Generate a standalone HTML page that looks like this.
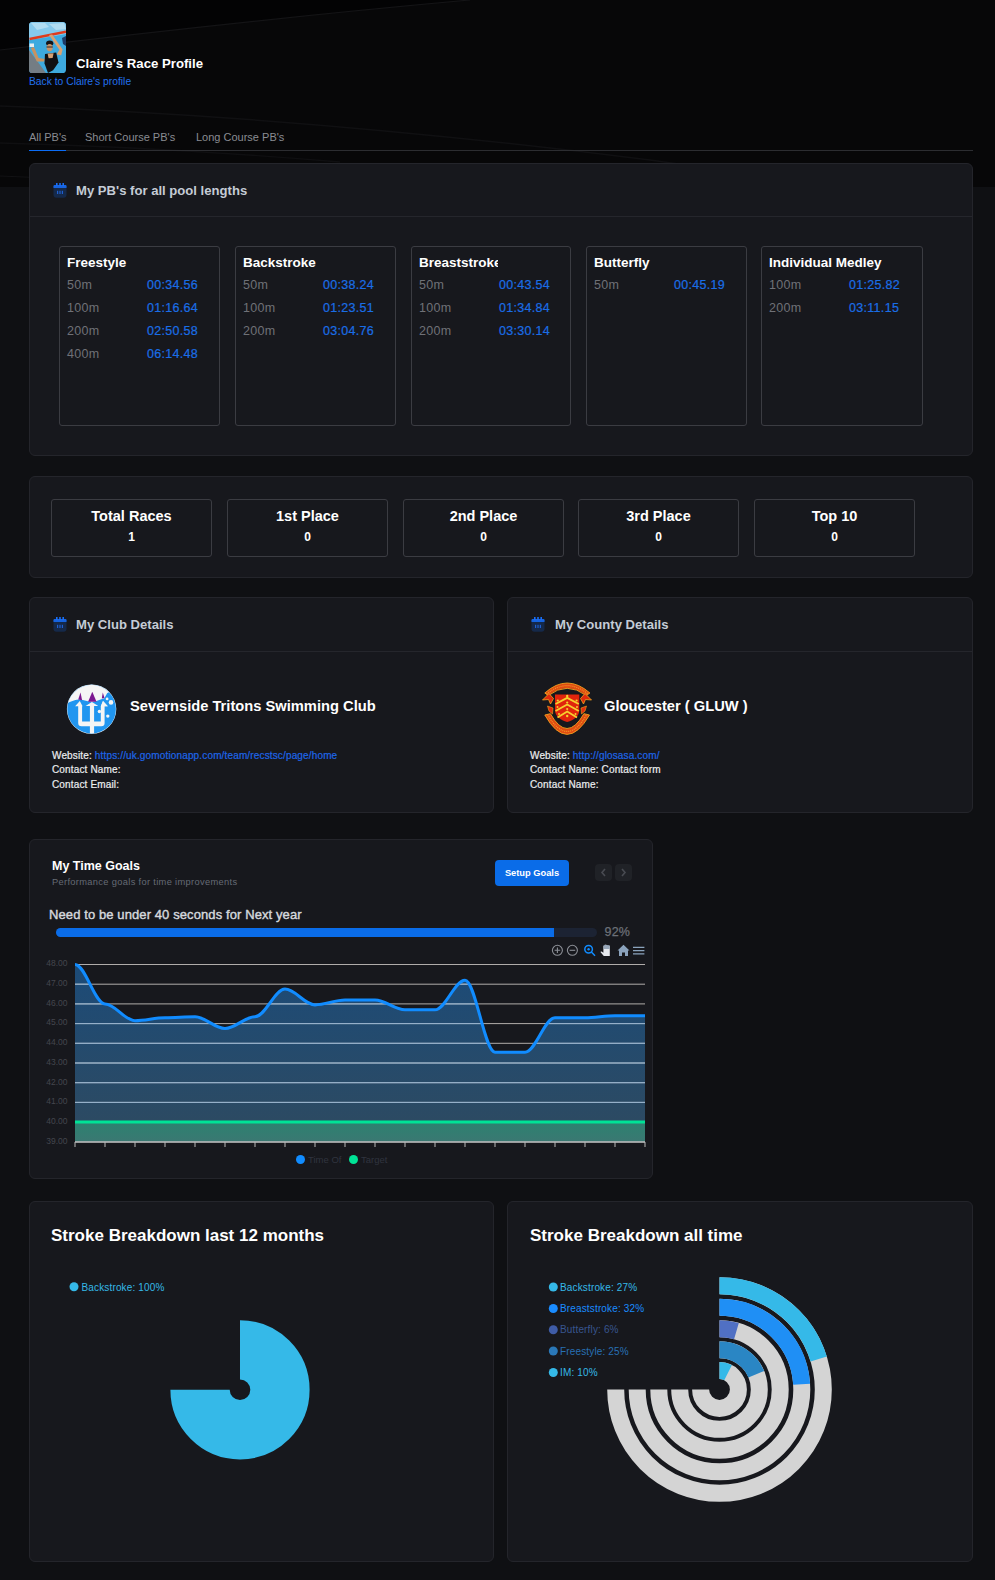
<!DOCTYPE html>
<html><head><meta charset="utf-8">
<style>
*{box-sizing:border-box;margin:0;padding:0}
html,body{width:995px;height:1580px;overflow:hidden;background:#0f1013;font-family:"Liberation Sans",sans-serif;color:#fff}
.abs{position:absolute}
#hdr{position:absolute;left:0;top:0;width:995px;height:187px;background:#040405;overflow:hidden}
.card{position:absolute;background:#17181d;border:1px solid #24252b;border-radius:6px}
.ctitle{position:absolute;font-weight:bold;font-size:13.1px;color:#c5ccd6;margin-top:-0.5px;white-space:nowrap}
.divl{position:absolute;left:0;right:0;height:1px;background:#25262c}
.pb{position:absolute;top:246px;width:161px;height:180px;border:1px solid #3b3c42;border-radius:3px}
.pb h4{position:absolute;left:7px;top:7.5px;font-size:13.5px;font-weight:bold;color:#fff;white-space:nowrap}
.pb .r{position:absolute;left:7px;font-size:12.5px;letter-spacing:0.3px;color:#6f7177;white-space:nowrap}
.pb .t{position:absolute;left:87px;font-size:12.5px;letter-spacing:0.3px;-webkit-text-stroke:0.2px #1a6ee6;color:#1a6ee6;white-space:nowrap}
.st{position:absolute;top:499px;width:161px;height:58px;border:1px solid #3b3c42;border-radius:3px;text-align:center}
.st .a{position:absolute;left:0;right:0;top:8px;font-size:14.5px;font-weight:bold;color:#fff}
.st .b{position:absolute;left:0;right:0;top:30px;font-size:12px;font-weight:bold;color:#fff}
</style></head><body>
<div id="hdr"><svg width="995" height="187" viewBox="0 0 995 187" style="position:absolute;left:0;top:0">
<rect width="995" height="187" fill="#070708"/>
<path d="M0 0 H470 Q250 20 0 50 Z" fill="#030304"/>
<g fill="none">
<path d="M0 50 Q250 20 470 0" stroke="#141416" stroke-width="1.2"/>
<path d="M0 106 Q300 116 650 160 Q720 170 760 174" stroke="#101012" stroke-width="1.5"/>
<path d="M0 143 Q160 147 340 162" stroke="#0f0f11" stroke-width="1.3"/>
<path d="M0 176 Q30 177 60 179" stroke="#121214" stroke-width="1.2"/>
</g>
</svg></div>

<!-- photo -->
<svg class="abs" style="left:29px;top:22px" width="37" height="51" viewBox="0 0 37 51">
<defs><clipPath id="pc"><rect width="37" height="51" rx="3.6"/></clipPath></defs>
<g clip-path="url(#pc)">
<rect width="37" height="51" fill="#3eaadf"/>
<path d="M0 0 H37 V12 L20 15 L0 18 Z" fill="#86c9ec"/>
<path d="M2 1 L16 1 L20 5 L8 8 Z M20 2 L35 1 L37 7 L27 8 Z" fill="#c2e4f5" opacity="0.7"/>
<path d="M0 28 L17 51 H0 Z" fill="#747d84"/>
<path d="M0.5 17 L37 9.8" stroke="#e03a1c" stroke-width="2.4"/>
<path d="M33 16 L37 14 V24 L34 22 Z" fill="#1d3a66"/>
<rect x="0.5" y="21.5" width="4.5" height="3.5" fill="#e8eef2"/>
<path d="M20 12.9 L23.2 12.4 L33.6 27.4 L32.2 33.3 L27.7 32.4 L30.4 27.8 Z" fill="#d9a272"/>
<path d="M1.9 26 L5 25.1 L9.6 36 L15.9 36.9 L15 39.6 L7.8 39.6 Z" fill="#c99260"/>
<ellipse cx="20.7" cy="21.2" rx="3.6" ry="2.6" fill="#141418"/>
<ellipse cx="20.6" cy="25.6" rx="3" ry="3.6" fill="#c89468"/>
<path d="M17.5 25 H23.8" stroke="#2a2a30" stroke-width="1.1"/>
<path d="M16 31.9 L27.2 30.5 L29.5 40.5 L24.1 48.2 L19 51 L15.5 41.4 Z" fill="#101014"/>
<path d="M18.6 31.6 L24.6 31.2 L23.6 36 L19.6 36.3 Z" fill="#d4a074"/>
</g></svg>
<div class="abs" style="left:76px;top:55.5px;font-size:13.2px;font-weight:bold;color:#fff;white-space:nowrap">Claire's Race Profile</div>
<div class="abs" style="left:29px;top:75.5px;font-size:10.3px;color:#2271ee;white-space:nowrap">Back to Claire's profile</div>

<!-- tabs -->
<div class="abs" style="left:29px;top:131px;font-size:11px;color:#8a8c92;white-space:nowrap">All PB's</div>
<div class="abs" style="left:85px;top:131px;font-size:11px;color:#8a8c92;white-space:nowrap">Short Course PB's</div>
<div class="abs" style="left:196px;top:131px;font-size:11px;color:#8a8c92;white-space:nowrap">Long Course PB's</div>
<div class="abs" style="left:29px;top:150px;width:944px;height:1px;background:#2c2d31"></div>
<div class="abs" style="left:29px;top:149.6px;width:37px;height:1.6px;background:#0b6cf5"></div>

<!-- PB card -->
<div class="card" style="left:29px;top:163px;width:944px;height:293px"><div class="divl" style="top:52px"></div></div>
<svg class="abs" style="left:53px;top:182px" width="14" height="16" viewBox="0 0 14 16"><rect x="0.5" y="3.5" width="13" height="12.3" rx="3" fill="#15294a"/><path d="M0.5 6 V5.5 A2.5 2.5 0 0 1 3 3 H11 A2.5 2.5 0 0 1 13.5 5.5 V6 Z" fill="#1764e0"/><rect x="0.5" y="3" width="13" height="2.6" fill="#1764e0" rx="1"/><rect x="3" y="1" width="1.6" height="3" fill="#1a6ef5"/><rect x="6.2" y="1" width="1.6" height="3" fill="#1a6ef5"/><rect x="9.4" y="1" width="1.6" height="3" fill="#1a6ef5"/><g fill="#1f5fd0"><rect x="4" y="8.8" width="1.2" height="3.2"/><rect x="6.4" y="8.8" width="1.2" height="3.2"/><rect x="8.8" y="8.8" width="1.2" height="3.2"/></g></svg>
<div class="ctitle" style="left:76px;top:183px">My PB's for all pool lengths</div>

<div class="pb" style="left:59px"><h4>Freestyle</h4>
<div class="r" style="top:31px">50m</div><div class="t" style="top:31px">00:34.56</div>
<div class="r" style="top:54px">100m</div><div class="t" style="top:54px">01:16.64</div>
<div class="r" style="top:77px">200m</div><div class="t" style="top:77px">02:50.58</div>
<div class="r" style="top:100px">400m</div><div class="t" style="top:100px">06:14.48</div>
</div>
<div class="pb" style="left:235px"><h4>Backstroke</h4>
<div class="r" style="top:31px">50m</div><div class="t" style="top:31px">00:38.24</div>
<div class="r" style="top:54px">100m</div><div class="t" style="top:54px">01:23.51</div>
<div class="r" style="top:77px">200m</div><div class="t" style="top:77px">03:04.76</div>
</div>
<div class="pb" style="left:411px;width:160px"><h4 style="width:79px;overflow:hidden">Breaststroke</h4>
<div class="r" style="top:31px">50m</div><div class="t" style="top:31px">00:43.54</div>
<div class="r" style="top:54px">100m</div><div class="t" style="top:54px">01:34.84</div>
<div class="r" style="top:77px">200m</div><div class="t" style="top:77px">03:30.14</div>
</div>
<div class="pb" style="left:586px"><h4>Butterfly</h4>
<div class="r" style="top:31px">50m</div><div class="t" style="top:31px">00:45.19</div>
</div>
<div class="pb" style="left:761px;width:162px"><h4>Individual Medley</h4>
<div class="r" style="top:31px">100m</div><div class="t" style="top:31px">01:25.82</div>
<div class="r" style="top:54px">200m</div><div class="t" style="top:54px">03:11.15</div>
</div>

<!-- stats card -->
<div class="card" style="left:29px;top:476px;width:944px;height:102px"></div>
<div class="st" style="left:51px"><div class="a">Total Races</div><div class="b">1</div></div>
<div class="st" style="left:227px"><div class="a">1st Place</div><div class="b">0</div></div>
<div class="st" style="left:403px"><div class="a">2nd Place</div><div class="b">0</div></div>
<div class="st" style="left:578px"><div class="a">3rd Place</div><div class="b">0</div></div>
<div class="st" style="left:754px"><div class="a">Top 10</div><div class="b">0</div></div>

<!-- club card -->
<div class="card" style="left:29px;top:597px;width:465px;height:216px"><div class="divl" style="top:53px"></div></div>
<svg class="abs" style="left:53px;top:616px" width="14" height="16" viewBox="0 0 14 16"><rect x="0.5" y="3.5" width="13" height="12.3" rx="3" fill="#15294a"/><path d="M0.5 6 V5.5 A2.5 2.5 0 0 1 3 3 H11 A2.5 2.5 0 0 1 13.5 5.5 V6 Z" fill="#1764e0"/><rect x="0.5" y="3" width="13" height="2.6" fill="#1764e0" rx="1"/><rect x="3" y="1" width="1.6" height="3" fill="#1a6ef5"/><rect x="6.2" y="1" width="1.6" height="3" fill="#1a6ef5"/><rect x="9.4" y="1" width="1.6" height="3" fill="#1a6ef5"/><g fill="#1f5fd0"><rect x="4" y="8.8" width="1.2" height="3.2"/><rect x="6.4" y="8.8" width="1.2" height="3.2"/><rect x="8.8" y="8.8" width="1.2" height="3.2"/></g></svg>
<div class="ctitle" style="left:76px;top:617px">My Club Details</div>
<svg class="abs" style="left:66px;top:683px" width="52" height="52" viewBox="0 0 52 52">
<defs><clipPath id="cc"><circle cx="25.6" cy="26.1" r="24.3"/></clipPath></defs>
<circle cx="25.6" cy="26.1" r="24.7" fill="#e6f3fc"/>
<g clip-path="url(#cc)">
<rect width="52" height="52" fill="#2196f0"/>
<path d="M0 0 H52 V6 L48.2 8.1 C45 9 42 9.5 41.1 10.2 C39.5 13 38.5 15 38.3 15.2 C33 17 29 19 25.6 19 C20 18.5 16 16.2 12.2 16.6 C8 17 4 19 0 21 Z" fill="#f5f5f5"/>
<path d="M12.2 16.6 L14.5 9.5 L16.1 17.3 Z" fill="#7b1890"/>
<path d="M22.1 18.7 L26.3 8.8 L30.5 18.7 Z" fill="#7b1890"/>
<path d="M35.8 15.5 L36.8 9.5 L38.5 15 Z" fill="#7b1890"/>
<g fill="#f5f5f5">
<path d="M13.8 18 L9.1 23.3 H12.2 V40 Q12.2 43.3 15.5 43.3 H23.9 V52 H28.1 V43.3 H35.3 Q38.6 43.3 38.6 40 V23.3 H41.8 L37 18 L34.8 23.3 V38.4 H28.1 V22.9 H32.3 L25.9 19 L19.6 22.9 H23.9 V38.4 H16.1 V23.3 H16.6 Z"/>
<path d="M34.8 23.3 L37 18 L41.8 23.3 Z"/>
<circle cx="41.1" cy="15.9" r="1.4"/><circle cx="45" cy="19.4" r="2.3"/><circle cx="33.4" cy="28.5" r="1.7"/><circle cx="41.8" cy="33.1" r="1.7"/>
</g>
</g>
</svg>
<div class="abs" style="left:130px;top:697.5px;font-size:14.7px;font-weight:bold;color:#fff;white-space:nowrap">Severnside Tritons Swimming Club</div>
<div class="abs" style="left:52px;top:748.5px;font-size:10px;letter-spacing:0.15px;-webkit-text-stroke:0.2px currentColor;line-height:14.5px;color:#eceef0;white-space:nowrap">Website: <span style="color:#1e66e8">https://uk.gomotionapp.com/team/recstsc/page/home</span><br>Contact Name:<br>Contact Email:</div>
<!-- county card -->
<div class="card" style="left:507px;top:597px;width:466px;height:216px"><div class="divl" style="top:53px"></div></div>
<svg class="abs" style="left:531px;top:616px" width="14" height="16" viewBox="0 0 14 16"><rect x="0.5" y="3.5" width="13" height="12.3" rx="3" fill="#15294a"/><path d="M0.5 6 V5.5 A2.5 2.5 0 0 1 3 3 H11 A2.5 2.5 0 0 1 13.5 5.5 V6 Z" fill="#1764e0"/><rect x="0.5" y="3" width="13" height="2.6" fill="#1764e0" rx="1"/><rect x="3" y="1" width="1.6" height="3" fill="#1a6ef5"/><rect x="6.2" y="1" width="1.6" height="3" fill="#1a6ef5"/><rect x="9.4" y="1" width="1.6" height="3" fill="#1a6ef5"/><g fill="#1f5fd0"><rect x="4" y="8.8" width="1.2" height="3.2"/><rect x="6.4" y="8.8" width="1.2" height="3.2"/><rect x="8.8" y="8.8" width="1.2" height="3.2"/></g></svg>
<div class="ctitle" style="left:555px;top:617px">My County Details</div>
<svg class="abs" style="left:540px;top:681px" width="54" height="56" viewBox="0 0 54 56">
<path d="M4.8 12 Q27 -8 49.9 12 L46.3 14.5 Q27 0.1 8.3 14.5 Z" fill="#e04a12" stroke="#f2a21e" stroke-width="0.9"/>
<path d="M2.5 19 L9 12.5 L13.5 17.5 L10.5 23 L8.5 18.5 Z" fill="#e02a0c" stroke="#f2a21e" stroke-width="0.8"/>
<path d="M51.5 19 L45 12.5 L40.5 17.5 L43.5 23 L45.5 18.5 Z" fill="#e02a0c" stroke="#f2a21e" stroke-width="0.8"/>
<path d="M7.5 25 L13 27 L12.5 33 L9 30 Z" fill="#e02a0c" stroke="#f2a21e" stroke-width="0.6"/>
<path d="M46.5 25 L41 27 L41.5 33 L45 30 Z" fill="#e02a0c" stroke="#f2a21e" stroke-width="0.6"/>
<path d="M4.8 34 Q27 72.8 49.5 34 L43.9 32.7 Q27 62.3 10.4 32.7 Z" fill="#e04a12" stroke="#f2a21e" stroke-width="0.9"/><path d="M7.6 33.5 Q27 67.5 46.7 33.5" fill="none" stroke="#f3b02a" stroke-width="1.3" stroke-dasharray="1.1 0.9" opacity="0.75"/><path d="M6.6 13.2 Q27 -4 48.1 13.2" fill="none" stroke="#f3b02a" stroke-width="1.2" stroke-dasharray="1.1 0.9" opacity="0.75"/>
<path d="M15 13.5 H39.3 V29 C39.3 35 34 39 27.2 41 C20.5 39 15 35 15 29 Z" fill="#e0240c"/>
<g fill="none" stroke="#f5cf2e" stroke-width="1.9"><path d="M15.5 23 L27.2 16.8 L38.8 23"/><path d="M15.5 30 L27.2 23.5 L38.8 30"/><path d="M17.5 36.5 L27.2 30.5 L37 36.5"/></g>
<g fill="#f5cf2e"><circle cx="27.2" cy="15" r="1.2"/><circle cx="27.2" cy="21.5" r="1.1"/><circle cx="27.2" cy="28" r="1.1"/><circle cx="27.2" cy="35" r="1.2"/><circle cx="17.8" cy="19.5" r="1.1"/><circle cx="36.6" cy="19.5" r="1.1"/><circle cx="17.5" cy="26" r="1"/><circle cx="37" cy="26" r="1"/><circle cx="19" cy="33" r="1"/><circle cx="35.5" cy="33" r="1"/></g>
</svg>
<div class="abs" style="left:604px;top:697.5px;font-size:14.7px;font-weight:bold;color:#fff;white-space:nowrap">Gloucester ( GLUW )</div>
<div class="abs" style="left:530px;top:748.5px;font-size:10px;letter-spacing:0.15px;-webkit-text-stroke:0.2px currentColor;line-height:14.5px;color:#eceef0;white-space:nowrap">Website: <span style="color:#1e66e8">http://glosasa.com/</span><br>Contact Name: Contact form<br>Contact Name:</div>

<!-- goals card -->
<div class="card" style="left:29px;top:839px;width:624px;height:340px"></div>
<div class="abs" style="left:52px;top:859px;font-size:12.5px;font-weight:bold;color:#fff;white-space:nowrap">My Time Goals</div>
<div class="abs" style="left:52px;top:876.5px;font-size:9.3px;letter-spacing:0.33px;color:#666b75;white-space:nowrap">Performance goals for time improvements</div>
<div class="abs" style="left:495px;top:860px;width:74px;height:26px;border-radius:4px;background:#0a6ce8;color:#fff;font-size:9.3px;font-weight:bold;text-align:center;line-height:26px">Setup Goals</div>
<svg class="abs" style="left:595px;top:864px" width="38" height="17" viewBox="0 0 38 17"><rect x="0" y="0" width="17" height="17" rx="4" fill="#202227"/><rect x="20" y="0" width="17" height="17" rx="4" fill="#202227"/><path d="M10 5 L7 8.5 L10 12" fill="none" stroke="#484b52" stroke-width="1.6"/><path d="M27 5 L30 8.5 L27 12" fill="none" stroke="#484b52" stroke-width="1.6"/></svg>

<div class="abs" style="left:49px;top:906.5px;font-size:13px;letter-spacing:0.1px;-webkit-text-stroke:0.4px #d6d9de;color:#d6d9de;white-space:nowrap">Need to be under 40 seconds for Next year</div>
<div class="abs" style="left:56px;top:928px;width:541px;height:9px;border-radius:5px;background:#1c2333;overflow:hidden"><div style="width:498px;height:9px;background:#0a6ce8"></div></div>
<div class="abs" style="left:604.5px;top:925px;font-size:12.5px;letter-spacing:0.2px;-webkit-text-stroke:0.25px #6c7078;color:#6c7078;white-space:nowrap">92%</div>
<svg class="abs" style="left:0;top:940px" width="995" height="240" viewBox="0 940 995 240">
<defs>
<clipPath id="fc"><path d="M75.0 964.50 C85.5 964.50 94.5 1003.90 105.0 1003.90 C115.5 1003.90 124.5 1020.64 135.0 1020.64 C145.5 1020.64 154.5 1017.69 165.0 1017.69 C175.5 1017.69 184.5 1016.70 195.0 1016.70 C205.5 1016.70 214.5 1028.53 225.0 1028.53 C235.5 1028.53 244.5 1016.70 255.0 1016.70 C265.5 1016.70 274.5 989.12 285.0 989.12 C295.5 989.12 304.5 1004.88 315.0 1004.88 C325.5 1004.88 334.5 999.96 345.0 999.96 C355.5 999.96 364.5 999.96 375.0 999.96 C385.5 999.96 394.5 1009.81 405.0 1009.81 C415.5 1009.81 424.5 1009.81 435.0 1009.81 C445.5 1009.81 454.5 980.26 465.0 980.26 C475.5 980.26 484.5 1052.16 495.0 1052.16 C505.5 1052.16 514.5 1052.16 525.0 1052.16 C535.5 1052.16 544.5 1017.69 555.0 1017.69 C565.5 1017.69 574.5 1017.69 585.0 1017.69 C595.5 1017.69 604.5 1015.72 615.0 1015.72 C625.5 1015.72 634.5 1015.72 645.0 1015.72 L645 1141.5 L75 1141.5 Z"/></clipPath><linearGradient id="gt" x1="0" y1="1122" x2="0" y2="1141" gradientUnits="userSpaceOnUse"><stop offset="0" stop-color="#2c8270"/><stop offset="1" stop-color="#3a7872"/></linearGradient><linearGradient id="gb" x1="0" y1="964" x2="0" y2="1141" gradientUnits="userSpaceOnUse"><stop offset="0" stop-color="#1c4b78"/><stop offset="1" stop-color="#2e4a60"/></linearGradient>
</defs>
<path d="M75.0 964.50 C85.5 964.50 94.5 1003.90 105.0 1003.90 C115.5 1003.90 124.5 1020.64 135.0 1020.64 C145.5 1020.64 154.5 1017.69 165.0 1017.69 C175.5 1017.69 184.5 1016.70 195.0 1016.70 C205.5 1016.70 214.5 1028.53 225.0 1028.53 C235.5 1028.53 244.5 1016.70 255.0 1016.70 C265.5 1016.70 274.5 989.12 285.0 989.12 C295.5 989.12 304.5 1004.88 315.0 1004.88 C325.5 1004.88 334.5 999.96 345.0 999.96 C355.5 999.96 364.5 999.96 375.0 999.96 C385.5 999.96 394.5 1009.81 405.0 1009.81 C415.5 1009.81 424.5 1009.81 435.0 1009.81 C445.5 1009.81 454.5 980.26 465.0 980.26 C475.5 980.26 484.5 1052.16 495.0 1052.16 C505.5 1052.16 514.5 1052.16 525.0 1052.16 C535.5 1052.16 544.5 1017.69 555.0 1017.69 C565.5 1017.69 574.5 1017.69 585.0 1017.69 C595.5 1017.69 604.5 1015.72 615.0 1015.72 C625.5 1015.72 634.5 1015.72 645.0 1015.72 L645 1141.5 L75 1141.5 Z" fill="url(#gb)"/>
<rect x="75" y="1122" width="570" height="19.5" fill="url(#gt)"/>
<g stroke="rgba(235,230,225,0.72)" stroke-width="1"><line x1="75" x2="645" y1="964.5" y2="964.5"/><line x1="75" x2="645" y1="984.2" y2="984.2"/><line x1="75" x2="645" y1="1003.9" y2="1003.9"/><line x1="75" x2="645" y1="1023.6" y2="1023.6"/><line x1="75" x2="645" y1="1043.3" y2="1043.3"/><line x1="75" x2="645" y1="1063.0" y2="1063.0"/><line x1="75" x2="645" y1="1082.7" y2="1082.7"/><line x1="75" x2="645" y1="1102.4" y2="1102.4"/><line x1="75" x2="645" y1="1122.1" y2="1122.1"/></g><g stroke="#93b0cc" stroke-width="1" clip-path="url(#fc)"><line x1="75" x2="645" y1="964.5" y2="964.5"/><line x1="75" x2="645" y1="984.2" y2="984.2"/><line x1="75" x2="645" y1="1003.9" y2="1003.9"/><line x1="75" x2="645" y1="1023.6" y2="1023.6"/><line x1="75" x2="645" y1="1043.3" y2="1043.3"/><line x1="75" x2="645" y1="1063.0" y2="1063.0"/><line x1="75" x2="645" y1="1082.7" y2="1082.7"/><line x1="75" x2="645" y1="1102.4" y2="1102.4"/><line x1="75" x2="645" y1="1122.1" y2="1122.1"/></g>
<line x1="75" x2="645" y1="1122" y2="1122" stroke="#00e396" stroke-width="3"/>
<path d="M75.0 964.50 C85.5 964.50 94.5 1003.90 105.0 1003.90 C115.5 1003.90 124.5 1020.64 135.0 1020.64 C145.5 1020.64 154.5 1017.69 165.0 1017.69 C175.5 1017.69 184.5 1016.70 195.0 1016.70 C205.5 1016.70 214.5 1028.53 225.0 1028.53 C235.5 1028.53 244.5 1016.70 255.0 1016.70 C265.5 1016.70 274.5 989.12 285.0 989.12 C295.5 989.12 304.5 1004.88 315.0 1004.88 C325.5 1004.88 334.5 999.96 345.0 999.96 C355.5 999.96 364.5 999.96 375.0 999.96 C385.5 999.96 394.5 1009.81 405.0 1009.81 C415.5 1009.81 424.5 1009.81 435.0 1009.81 C445.5 1009.81 454.5 980.26 465.0 980.26 C475.5 980.26 484.5 1052.16 495.0 1052.16 C505.5 1052.16 514.5 1052.16 525.0 1052.16 C535.5 1052.16 544.5 1017.69 555.0 1017.69 C565.5 1017.69 574.5 1017.69 585.0 1017.69 C595.5 1017.69 604.5 1015.72 615.0 1015.72 C625.5 1015.72 634.5 1015.72 645.0 1015.72" fill="none" stroke="#118cff" stroke-width="3"/>
<line x1="75" x2="645" y1="1142" y2="1142" stroke="#c8c8c8" stroke-width="1.5"/>
<g stroke="#b8b8b8" stroke-width="1"><line x1="75" x2="75" y1="1142" y2="1147"/><line x1="105" x2="105" y1="1142" y2="1147"/><line x1="135" x2="135" y1="1142" y2="1147"/><line x1="165" x2="165" y1="1142" y2="1147"/><line x1="195" x2="195" y1="1142" y2="1147"/><line x1="225" x2="225" y1="1142" y2="1147"/><line x1="255" x2="255" y1="1142" y2="1147"/><line x1="285" x2="285" y1="1142" y2="1147"/><line x1="315" x2="315" y1="1142" y2="1147"/><line x1="345" x2="345" y1="1142" y2="1147"/><line x1="375" x2="375" y1="1142" y2="1147"/><line x1="405" x2="405" y1="1142" y2="1147"/><line x1="435" x2="435" y1="1142" y2="1147"/><line x1="465" x2="465" y1="1142" y2="1147"/><line x1="495" x2="495" y1="1142" y2="1147"/><line x1="525" x2="525" y1="1142" y2="1147"/><line x1="555" x2="555" y1="1142" y2="1147"/><line x1="585" x2="585" y1="1142" y2="1147"/><line x1="615" x2="615" y1="1142" y2="1147"/><line x1="645" x2="645" y1="1142" y2="1147"/></g>
<g font-family="Liberation Sans" font-size="8.5" fill="#44464d"><text x="67.5" y="966.3" text-anchor="end">48.00</text><text x="67.5" y="986.0" text-anchor="end">47.00</text><text x="67.5" y="1005.7" text-anchor="end">46.00</text><text x="67.5" y="1025.4" text-anchor="end">45.00</text><text x="67.5" y="1045.1" text-anchor="end">44.00</text><text x="67.5" y="1064.8" text-anchor="end">43.00</text><text x="67.5" y="1084.5" text-anchor="end">42.00</text><text x="67.5" y="1104.2" text-anchor="end">41.00</text><text x="67.5" y="1123.9" text-anchor="end">40.00</text><text x="67.5" y="1143.6" text-anchor="end">39.00</text></g>
<g fill="none" stroke="#8c8f96" stroke-width="1.1"><circle cx="557.4" cy="950.3" r="5"/><path d="M554.6 950.3h5.6M557.4 947.5v5.6"/><circle cx="572.4" cy="950.3" r="5"/><path d="M569.6 950.3h5.6"/></g>
<g fill="none" stroke="#118cff" stroke-width="1.5"><circle cx="588.6" cy="949.2" r="3.8"/><path d="M591.4 952l3.6 3.8"/></g><circle cx="588.6" cy="949.2" r="1.2" fill="#118cff"/>
<path d="M603.8 956 L600.8 952.6 C600.3 952 600.9 951.2 601.6 951.6 L603.4 952.8 L603.4 946.3 C603.4 945.5 604.6 945.5 604.6 946.3 L604.6 945.2 C604.6 944.4 605.9 944.4 605.9 945.2 L605.9 945.3 C605.9 944.6 607.2 944.6 607.2 945.3 L607.2 945.8 C607.2 945.1 608.5 945.1 608.5 945.8 L608.5 946.3 C608.5 945.6 609.8 945.6 609.8 946.3 L609.8 956 Z" fill="#e6e9ee"/><rect x="603.6" y="945" width="6" height="4" fill="#8a9bb0" opacity="0.85"/>
<path d="M617.5 950.5 L623.5 944.8 L629.5 950.5 L628 950.5 L628 956 L625 956 L625 952.5 L622 952.5 L622 956 L619 956 L619 950.5 Z" fill="#8ba3bd"/>
<g stroke="#8ba3bd" stroke-width="1.3"><path d="M633 947.4h11.4M633 950.6h11.4M633 953.8h11.4"/></g>
<circle cx="300.5" cy="1159.5" r="4.5" fill="#118cff"/>
<text x="308" y="1163" font-family="Liberation Sans" font-size="9.5" fill="#30343f">Time Of</text>
<circle cx="353.5" cy="1159.5" r="4.5" fill="#00e396"/>
<text x="361" y="1163" font-family="Liberation Sans" font-size="9.5" fill="#30343f">Target</text>
</svg>

<!-- stroke cards -->
<div class="card" style="left:29px;top:1201px;width:465px;height:361px"></div>
<div class="card" style="left:507px;top:1201px;width:466px;height:361px"></div>
<div class="abs" style="left:51px;top:1226px;font-size:17px;font-weight:bold;color:#fff;white-space:nowrap">Stroke Breakdown last 12 months</div>
<div class="abs" style="left:530px;top:1226px;font-size:17px;font-weight:bold;color:#fff;white-space:nowrap">Stroke Breakdown all time</div>
<svg class="abs" style="left:0;top:1200px" width="995" height="362" viewBox="0 1200 995 362">
<path d="M240.00 1349.85 A39.95 39.95 0 1 1 200.05 1389.80" fill="none" stroke="#35b9e8" stroke-width="59.30"/>
<path d="M719.50 1285.70 A103.80 103.80 0 1 1 615.70 1389.50" fill="none" stroke="#d4d4d4" stroke-width="17"/>
<path d="M719.50 1285.70 A103.80 103.80 0 0 1 818.71 1358.98" fill="none" stroke="#35b9e8" stroke-width="17"/>
<path d="M719.50 1307.20 A82.30 82.30 0 1 1 637.20 1389.50" fill="none" stroke="#d4d4d4" stroke-width="17"/>
<path d="M719.50 1307.20 A82.30 82.30 0 0 1 801.64 1384.33" fill="none" stroke="#1f8ff5" stroke-width="17"/>
<path d="M719.50 1328.80 A60.70 60.70 0 1 1 658.80 1389.50" fill="none" stroke="#d4d4d4" stroke-width="17"/>
<path d="M719.50 1328.80 A60.70 60.70 0 0 1 736.43 1331.21" fill="none" stroke="#5070c4" stroke-width="17"/>
<path d="M719.50 1349.70 A39.80 39.80 0 1 1 679.70 1389.50" fill="none" stroke="#d4d4d4" stroke-width="17"/>
<path d="M719.50 1349.70 A39.80 39.80 0 0 1 756.27 1374.27" fill="none" stroke="#2a86c4" stroke-width="17"/>
<path d="M719.50 1370.60 A18.90 18.90 0 1 1 700.60 1389.50" fill="none" stroke="#d4d4d4" stroke-width="17"/>
<path d="M719.50 1370.60 A18.90 18.90 0 0 1 728.08 1372.66" fill="none" stroke="#35b9e8" stroke-width="17"/>
<g font-family="Liberation Sans" font-size="10" letter-spacing="0.15">
<circle cx="74" cy="1286.8" r="4.5" fill="#35b9e8"/><text x="81.5" y="1290.5" fill="#35b9e8">Backstroke: 100%</text>
<circle cx="553.3" cy="1287" r="4.5" fill="#35b9e8"/><text x="560" y="1290.6" fill="#35b9e8">Backstroke: 27%</text>
<circle cx="553.3" cy="1308.5" r="4.5" fill="#1a8cff"/><text x="560" y="1312.1" fill="#1a8cff">Breaststroke: 32%</text>
<circle cx="553.3" cy="1329.8" r="4.5" fill="#3f5ca6"/><text x="560" y="1333.4" fill="#37558f">Butterfly: 6%</text>
<circle cx="553.3" cy="1351" r="4.5" fill="#2a78b8"/><text x="560" y="1354.6" fill="#2870b4">Freestyle: 25%</text>
<circle cx="553.3" cy="1372.5" r="4.5" fill="#35b9e8"/><text x="560" y="1376.1" fill="#35b9e8">IM: 10%</text>
</g>
</svg>

</body></html>
